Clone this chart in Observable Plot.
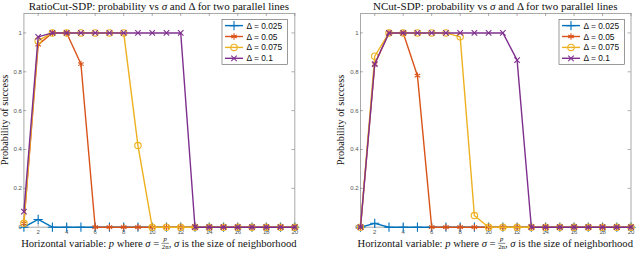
<!DOCTYPE html>
<html><head><meta charset="utf-8">
<script src="https://cdn.jsdelivr.net/npm/d3@7"></script>
<script src="https://cdn.jsdelivr.net/npm/@observablehq/plot@0.6"></script>
<style>
body{margin:0;background:#fff;}
#wrap{display:flex;width:640px;height:267px;overflow:hidden;}
svg{display:block;}
</style></head><body><div id="wrap"></div>
<script>
// ---- data ----
const pValues = [1,2,3,4,5,6,7,8,9,10,11,12,13,14,15,16,17,18,19,20];
const deltaLabels = ["Δ = 0.025","Δ = 0.05","Δ = 0.075","Δ = 0.1"];
const seriesColors = ["#0072BD","#D95319","#EDB120","#7E2F8E"];
const seriesSymbols = ["plus","asterisk","circle","times"];
const xTickValues = [2,4,6,8,10,12,14,16,18,20];
const yTickValues = [0,0.2,0.4,0.6,0.8,1];

const ratioCut_d025 = [0,0.04,0,0,0,0,0,0,0,0,0,0,0,0,0,0,0,0,0,0];
const ratioCut_d050 = [0.02,0.94,1,1,0.84,0,0,0,0,0,0,0,0,0,0,0,0,0,0,0];
const ratioCut_d075 = [0.02,0.96,1,1,1,1,1,1,0.42,0,0,0,0,0,0,0,0,0,0,0];
const ratioCut_d100 = [0.08,0.98,1,1,1,1,1,1,1,1,1,1,0,0,0,0,0,0,0,0];

const nCut_d025 = [0,0.02,0,0,0,0,0,0,0,0,0,0,0,0,0,0,0,0,0,0];
const nCut_d050 = [0,0.84,1,1,0.78,0,0,0,0,0,0,0,0,0,0,0,0,0,0,0];
const nCut_d075 = [0,0.88,1,1,1,1,1,0.98,0.06,0,0,0,0,0,0,0,0,0,0,0];
const nCut_d100 = [0,0.84,1,1,1,1,1,1,1,1,1,0.86,0,0,0,0,0,0,0,0];

const titleNames = ["RatioCut-SDP", "NCut-SDP"];
const yLabelText = "Probability of success";

const symbolMap = {plus: d3.symbolPlus, asterisk: d3.symbolAsterisk, circle: d3.symbolCircle, times: d3.symbolTimes};
const symbolR = {plus: 3.1, asterisk: 3.0, circle: 3.2, times: 2.6};
const SERIF = "'Liberation Serif','DejaVu Serif',serif";
const SANS = "'Liberation Sans',Arial,sans-serif";

function panel(series, cfg) {
  const tickStroke = "#777";
  const marks = [
    Plot.frame({stroke: "#a9a9a9", strokeWidth: 1}),
    Plot.ruleX(xTickValues, {x: d => d, y1: 0, y2: 0.016, stroke: tickStroke, strokeWidth: 0.6}),
    Plot.ruleX(xTickValues, {x: d => d, y1: 1.1, y2: 1.084, stroke: tickStroke, strokeWidth: 0.6}),
    Plot.ruleY(yTickValues, {y: d => d, x1: 1, x2: 1.2, stroke: tickStroke, strokeWidth: 0.6}),
    Plot.ruleY(yTickValues, {y: d => d, x1: 20, x2: 19.8, stroke: tickStroke, strokeWidth: 0.6}),
    Plot.axisX({ticks: xTickValues, tickSize: 0, tickPadding: 3, label: null, fontSize: 6, color: "#555"}),
    Plot.axisY({ticks: yTickValues, tickSize: 0, tickPadding: 2, label: null, fontSize: 6, color: "#555",
                tickFormat: d => String(+d.toFixed(1))})
  ];
  series.forEach((vals, i) => {
    const rows = pValues.map((x, j) => ({x, y: vals[j]}));
    marks.push(Plot.line(rows, {x: "x", y: "y", stroke: seriesColors[i], strokeWidth: 1.4}));
    marks.push(Plot.dot(rows, {x: "x", y: "y", stroke: seriesColors[i], symbol: seriesSymbols[i],
                               r: symbolR[seriesSymbols[i]], strokeWidth: 1.1}));
  });
  return Plot.plot({
    width: 320, height: 267,
    marginTop: 13, marginBottom: 40.3, marginLeft: cfg.marginLeft, marginRight: cfg.marginRight,
    x: {domain: [1, 20]},
    y: {domain: [0, 1.1]},
    style: {fontFamily: SANS, background: "white", overflow: "visible"},
    marks
  });
}

function addSpans(text, parts) {
  for (const p of parts) {
    const ts = text.append("tspan").text(p.t);
    if (p.it) ts.attr("font-style", "italic");
    if (p.size) ts.attr("font-size", p.size);
    if (p.dx != null) ts.attr("dx", p.dx);
    if (p.dy != null) ts.attr("dy", p.dy);
  }
}

function decorate(svg, cfg, name) {
  const s = d3.select(svg);
  const cx = (cfg.marginLeft + (320 - cfg.marginRight)) / 2;
  // title
  const title = s.append("text").attr("x", cx).attr("y", 9.6).attr("text-anchor", "middle")
    .attr("font-family", SERIF).attr("font-size", 11).attr("fill", "#111");
  addSpans(title, [{t: name + ": probability vs "}, {t: "σ", it: true}, {t: " and Δ for two parallel lines"}]);
  // y label
  s.append("text").attr("transform", `translate(${cfg.yLabelX},120) rotate(-90)`)
    .attr("text-anchor", "middle").attr("font-family", SERIF).attr("font-size", 10.3).attr("fill", "#111")
    .text(yLabelText);
  // x label with fraction
  const base = 246.7;
  const xl = s.append("text").attr("x", cx).attr("y", base).attr("text-anchor", "middle")
    .attr("font-family", SERIF).attr("font-size", 10.6).attr("fill", "#111");
  addSpans(xl, [
    {t: "Horizontal variable: "}, {t: "p", it: true}, {t: " where "}, {t: "σ", it: true}, {t: " = "},
    {t: "p", it: true, size: 6.8, dx: 1.8, dy: -5.3},
    {t: "2n", size: 6.8, dx: -5.2, dy: 7.4},
    {t: ", ", dy: -2.1}, {t: "σ", it: true}, {t: " is the size of neighborhood"}
  ]);
  try {
    const node = xl.node();
    const full = node.textContent;
    const i2 = full.indexOf("2n");
    const e1 = node.getExtentOfChar(i2), e2 = node.getExtentOfChar(i2 + 1);
    const ep = node.getExtentOfChar(full.indexOf("p2n"));
    const x1 = Math.min(e1.x, ep.x) - 0.3, x2 = Math.max(e2.x + e2.width, ep.x + ep.width) + 0.3;
    s.append("line").attr("x1", x1).attr("x2", x2).attr("y1", base - 3.4).attr("y2", base - 3.4)
      .attr("stroke", "#111").attr("stroke-width", 0.5);
  } catch (e) {}
  // legend
  const lx = cfg.legendX, ly = 19.3, lw = 65.5, lh = 45;
  const lg = s.append("g");
  lg.append("rect").attr("x", lx).attr("y", ly).attr("width", lw).attr("height", lh)
    .attr("fill", "white").attr("stroke", "#555").attr("stroke-width", 0.6);
  deltaLabels.forEach((lab, i) => {
    const yy = ly + 6.3 + i * 10.9;
    const sym = seriesSymbols[i];
    lg.append("line").attr("x1", lx + 3).attr("x2", lx + 21).attr("y1", yy).attr("y2", yy)
      .attr("stroke", seriesColors[i]).attr("stroke-width", 1.4);
    lg.append("path").attr("transform", `translate(${lx + 12},${yy})`)
      .attr("d", d3.symbol(symbolMap[sym], symbolR[sym] * symbolR[sym] * Math.PI)())
      .attr("fill", "none").attr("stroke", seriesColors[i]).attr("stroke-width", 1.1);
    lg.append("text").attr("x", lx + 24.5).attr("y", yy + 3).attr("text-anchor", "start")
      .attr("font-family", SANS).attr("font-size", 8.4).attr("fill", "#111").text(lab);
  });
}

const wrap = document.getElementById("wrap");
const cfgs = [
  {marginLeft: 23.4, marginRight: 25.7, legendX: 222, yLabelX: 8},
  {marginLeft: 40, marginRight: 9.5, legendX: 239, yLabelX: 24}
];
const allSeries = [
  [ratioCut_d025, ratioCut_d050, ratioCut_d075, ratioCut_d100],
  [nCut_d025, nCut_d050, nCut_d075, nCut_d100]
];
allSeries.forEach((series, k) => {
  const svg = panel(series, cfgs[k]);
  wrap.appendChild(svg);
  decorate(svg, cfgs[k], titleNames[k]);
});
</script>
</body></html>
